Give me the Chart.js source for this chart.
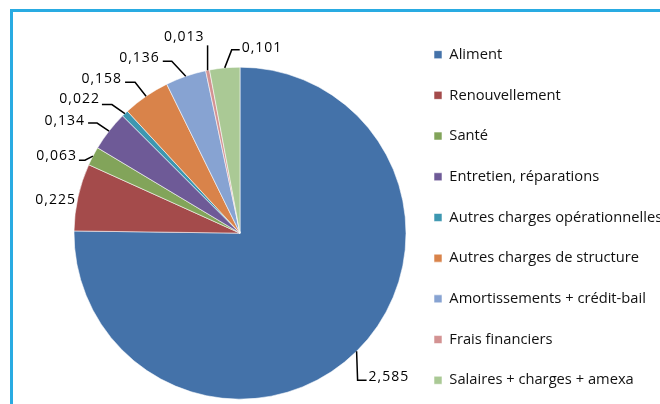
<!DOCTYPE html>
<html>
<head>
<meta charset="utf-8">
<script src="https://cdn.jsdelivr.net/npm/chart.js@4"></script>
<style>
  html, body { margin: 0; padding: 0; background: #fff; overflow: hidden; }
  body { width: 660px; height: 404px; position: relative; }
  .frame {
    position: absolute; left: 10px; top: 9px; width: 720px; height: 460px;
    border-left: 3px solid #29abe2; border-top: 3px solid #29abe2;
  }
  .wrap { position: absolute; left: 0; top: 0; }
</style>
</head>
<body>
<div class="frame"></div>
<div class="wrap"><canvas id="pieChart" width="660" height="445"></canvas></div>
<script>
    const categories = [
        'Aliment',
        'Renouvellement',
        'Santé',
        'Entretien, réparations',
        'Autres charges opérationnelles',
        'Autres charges de structure',
        'Amortissements + crédit-bail',
        'Frais financiers',
        'Salaires + charges + amexa'
    ];
    const values = [2.585, 0.225, 0.063, 0.134, 0.022, 0.158, 0.136, 0.013, 0.101];
    const sliceColors = [
        '#4472a9', '#a44b4b', '#82a45a', '#6e5a97', '#3d97b1',
        '#d9834a', '#87a3d2', '#d39292', '#aac995'
    ];

    // leader lines: elbow offset from slice edge, horizontal tail, text offset from line end
    const leaderLayout = [
        { elbow: [1, 29],    tail: 9,   text: [2, -3] },
        { elbow: [0, 0],     tail: 0,   text: [-2, 3], align: 'right', noLine: true },
        { elbow: [-8, 4],    tail: -6,  text: [-2, -4] },
        { elbow: [-12, -8],  tail: -9,  text: [-3, -2] },
        { elbow: [-13, -9],  tail: -10, text: [-2, -5] },
        { elbow: [-11, -14], tail: -10, text: [-3, -3] },
        { elbow: [-14, -15], tail: -9,  text: [-3, -3] },
        { elbow: [0, -25],   tail: 0,   text: [-3, -8], align: 'right' },
        { elbow: [7, -18],   tail: 8,   text: [2, -2] }
    ];

    const fmt = v => v.toFixed(3).replace('.', ',');

    // ---------------- Plugin: labels with leader lines ----------------
    const leaderLabels = {
        id: 'leaderLabels',
        afterDatasetsDraw(chart) {
            const ctx = chart.ctx;
            const meta = chart.getDatasetMeta(0);
            ctx.save();
            ctx.strokeStyle = '#000';
            ctx.lineWidth = 1.5;
            ctx.fillStyle = '#000';
            ctx.font = '14px "Open Sans"';
            ctx.letterSpacing = '1px';
            ctx.textBaseline = 'middle';
            meta.data.forEach((arc, i) => {
                const p = arc.getProps(['x', 'y', 'startAngle', 'endAngle', 'outerRadius'], true);
                const mid = (p.startAngle + p.endAngle) / 2;
                const ax = p.x + Math.cos(mid) * p.outerRadius;
                const ay = p.y + Math.sin(mid) * p.outerRadius;
                const L = leaderLayout[i];
                const ex = ax + L.elbow[0], ey = ay + L.elbow[1];
                const tx = ex + L.tail, ty = ey;
                if (!L.noLine) {
                    ctx.beginPath();
                    ctx.moveTo(ax, ay);
                    ctx.lineTo(ex, ey);
                    ctx.lineTo(tx, ty);
                    ctx.stroke();
                }
                ctx.textAlign = L.align || (L.tail < 0 ? 'right' : 'left');
                ctx.fillText(fmt(values[i]), tx + L.text[0], ty + L.text[1]);
            });
            ctx.restore();
        }
    };

    const ctx = document.getElementById('pieChart').getContext('2d');
    new Chart(ctx, {
        type: 'pie',
        data: {
            labels: categories,
            datasets: [{
                data: values,
                backgroundColor: sliceColors,
                borderColor: 'rgba(255,255,255,0.7)',
                borderWidth: 0.8
            }]
        },
        options: {
            responsive: false,
            animation: false,
            radius: 166,
            layout: { padding: { left: 72, top: 21.3, right: 0, bottom: 0 } },
            plugins: {
                tooltip: { enabled: false },
                legend: {
                    position: 'right',
                    align: 'start',
                    maxWidth: 252,
                    labels: {
                        boxWidth: 8,
                        boxHeight: 8,
                        padding: 26,
                        color: '#111',
                        font: { family: '"Open Sans"', size: 14.7 }
                    }
                }
            }
        },
        plugins: [leaderLabels]
    });
</script>
</body>
</html>
